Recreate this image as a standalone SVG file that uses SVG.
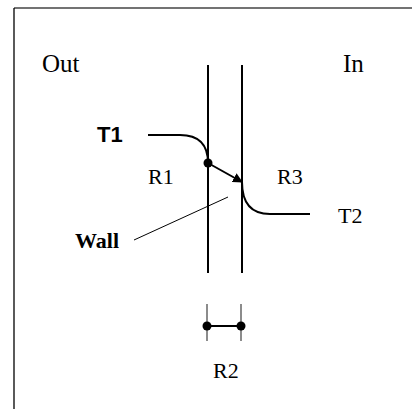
<svg xmlns="http://www.w3.org/2000/svg" width="412" height="409" viewBox="0 0 412 409">
<style>
.wall{fill:none;stroke:#000;stroke-width:2}
.flow{fill:none;stroke:#000;stroke-width:2}
.thin{fill:none;stroke:#000;stroke-width:1}
.tick{fill:none;stroke:#666;stroke-width:1.5}
.dot{fill:#000}
</style>
<defs>
<marker id="arrow" markerWidth="10" markerHeight="10" refX="9" refY="5" orient="auto" markerUnits="userSpaceOnUse">
<path d="M0,0 L10,5 L0,10 Z" fill="#000"/>
</marker>
</defs>
<rect width="412" height="409" fill="#fff"/>
<g id="frame">
<line x1="14" y1="8" x2="412" y2="8" stroke="#444" stroke-width="1.3"/>
<line x1="14" y1="8" x2="14" y2="409" stroke="#000" stroke-width="1.3"/>
</g>
<g id="labels" fill="#000">
<text x="42" y="72" font-family="'Liberation Serif', 'Times New Roman', serif" font-size="25">Out</text>
<text x="343" y="72" font-family="'Liberation Serif', 'Times New Roman', serif" font-size="25">In</text>
<text x="97" y="142" font-family="'Liberation Sans', Arial, sans-serif" font-size="22" font-weight="bold">T1</text>
<text x="75" y="248" font-family="'Liberation Serif', 'Times New Roman', serif" font-size="22" font-weight="bold">Wall</text>
<text x="148" y="184" font-family="'Liberation Serif', 'Times New Roman', serif" font-size="22">R1</text>
<text x="277" y="184" font-family="'Liberation Serif', 'Times New Roman', serif" font-size="22">R3</text>
<text x="338" y="223" font-family="'Liberation Serif', 'Times New Roman', serif" font-size="22">T2</text>
<text x="213" y="378" font-family="'Liberation Serif', 'Times New Roman', serif" font-size="22">R2</text>
</g>
<g id="walls">
<line class="wall" x1="208" y1="65" x2="208" y2="273"/>
<line class="wall" x1="242" y1="65" x2="242" y2="273"/>
</g>
<g id="connectors">
<path class="flow" d="M148,135 H180 Q208,135 208,163"/>
<line class="flow" x1="208" y1="163" x2="242" y2="182" marker-end="url(#arrow)"/>
<path class="flow" d="M242,182 Q242,214 270,214 H310"/>
<line class="thin" x1="134" y1="240" x2="228" y2="197"/>
<circle class="dot" cx="208" cy="163" r="4.5"/>
</g>
<g id="r2">
<line class="tick" x1="207" y1="304" x2="207" y2="341"/>
<line class="tick" x1="241" y1="304" x2="241" y2="341"/>
<line class="flow" x1="207" y1="326" x2="241" y2="326" stroke-width="1.5"/>
<circle class="dot" cx="207" cy="326" r="4.5"/>
<circle class="dot" cx="241" cy="326" r="4.5"/>
</g>
</svg>
